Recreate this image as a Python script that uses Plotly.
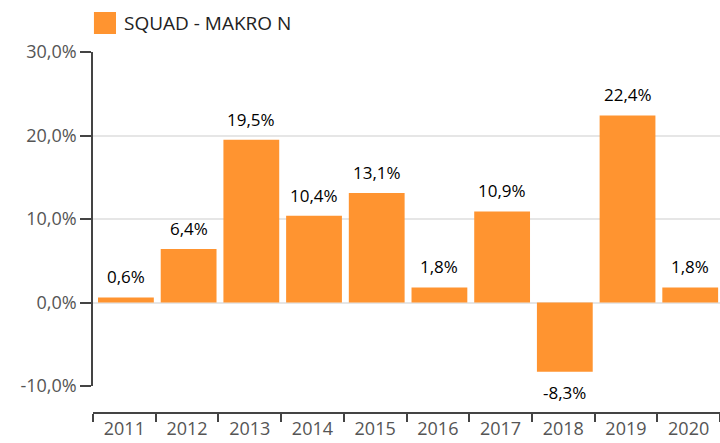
import plotly.graph_objects as go

years = ["2011", "2012", "2013", "2014", "2015", "2016", "2017", "2018", "2019", "2020"]
values = [0.6, 6.4, 19.5, 10.4, 13.1, 1.8, 10.9, -8.3, 22.4, 1.8]
series_name = "SQUAD - MAKRO N"
y_ticks = [-10, 0, 10, 20, 30]
y_tick_text = ["-10,0%", "0,0%", "10,0%", "20,0%", "30,0%"]

color = "#FF9430"
font = "Open Sans"

fig = go.Figure()
fig.add_trace(go.Bar(
    x=years, y=values, name=series_name,
    width=0.89, offset=-0.42,
    marker=dict(color=color, line=dict(width=0)),
    showlegend=False, hoverinfo="skip",
))

H = 443
top, bottom = 52, 30
plot_h = H - top - bottom
ydom0 = (413 - 386) / plot_h

annotations = []
for i, v in enumerate(values):
    annotations.append(dict(
        x=i + 0.025, y=v, xref="x", yref="y",
        text=f"{v:.1f}%".replace(".", ","),
        showarrow=False,
        yanchor="bottom" if v >= 0 else "top",
        yshift=7 if v >= 0 else -7,
        font=dict(family=font, size=17, color="#000000"),
    ))

annotations.append(dict(text=series_name, xref="paper", yref="paper",
                        x=29/627, y=(443-23-30)/plot_h, xanchor="left", yanchor="middle",
                        showarrow=False, font=dict(family=font, size=19, color="#222222")))

fig.update_layout(
    width=720, height=443,
    margin=dict(l=93, r=0, t=top, b=bottom, autoexpand=False),
    paper_bgcolor="white", plot_bgcolor="white",
    separators=",.",
    font=dict(family=font, size=18, color="#555555"),
    xaxis=dict(
        type="category", anchor="free", position=0, automargin=False,
        range=[-0.5, len(years) - 0.5],
        showline=True, linecolor="#444444", linewidth=1.5,
        ticks="outside", tickson="boundaries", ticklen=8, tickcolor="#444444", tickwidth=1.5,
        showgrid=False, tickfont=dict(family=font, size=18, color="#555555"),
    ),
    yaxis=dict(
        domain=[ydom0, 1], range=[-10, 30], automargin=False,
        tickvals=y_ticks, ticktext=y_tick_text,
        showline=True, linecolor="#444444", linewidth=1.5,
        ticks="outside", ticklen=11, tickcolor="#444444", tickwidth=1.5,
        showgrid=True, gridcolor="#E6E6E6", gridwidth=1.5, zeroline=False,
        tickfont=dict(family=font, size=18, color="#555555"),
    ),
    shapes=[dict(type="rect", xref="paper", yref="paper",
                 x0=0.0015, x1=23/627, y0=(443-34-30)/plot_h, y1=(443-12-30)/plot_h,
                 fillcolor=color, line=dict(width=0))],
    annotations=annotations,
)

fig.write_html("out.html", config={"displayModeBar": False},
               post_script="document.body.style.margin='0';document.body.style.overflow='hidden';")
